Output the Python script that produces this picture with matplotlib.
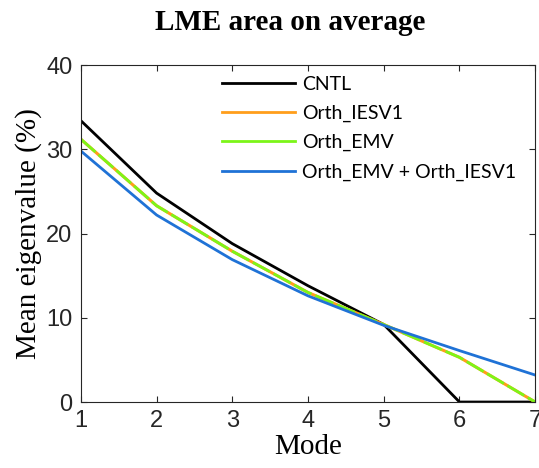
import matplotlib.pyplot as plt
from matplotlib.lines import Line2D

## Daten
mode = [1, 2, 3, 4, 5, 6, 7]
cntl = [33.4, 24.8, 18.8, 13.8, 9.2, 0.0, 0.0]
orth_iesv1 = [31.2, 23.3, 17.9, 13.0, 9.2, 5.3, 0.0]
orth_emv = [31.2, 23.3, 17.9, 13.0, 9.2, 5.3, 0.0]
orth_both = [29.8, 22.2, 16.9, 12.6, 9.1, 6.1, 3.2]
names = ['CNTL', 'Orth_IESV1', 'Orth_EMV', 'Orth_EMV + Orth_IESV1']
farben = ['black', '#ff9e1b', '#7cf518', '#1f72d6']

fig = plt.figure(figsize=(5.39, 4.68), dpi=100)
ax = fig.add_axes([0.150, 0.141, 0.843, 0.720])

ax.plot(mode, cntl, color=farben[0], lw=2)
ax.plot(mode, orth_iesv1, color=farben[1], lw=2.2)
ax.plot(mode, orth_emv, color=farben[2], lw=2, dashes=(7, 1.5))  # liegt fast auf Orth_IESV1
ax.plot(mode, orth_both, color=farben[3], lw=2)

ax.set_xlim(1, 7)
ax.set_ylim(0, 40)
ax.set_xticks(mode)
ax.set_yticks([0, 10, 20, 30, 40])
ax.tick_params(direction='in', top=True, right=True, labelsize=17,
               colors='#262626', length=4, width=0.8, pad=6)
for s in ax.spines.values():
    s.set_color('#262626')
    s.set_linewidth(0.8)
for t in ax.get_xticklabels() + ax.get_yticklabels():
    t.set_fontfamily('Liberation Sans')

ax.set_xlabel('Mode', family='Liberation Serif', fontsize=21, labelpad=1)
ax.set_ylabel('Mean eigenvalue (%)', family='Liberation Serif', fontsize=21, labelpad=3)
fig.text(290/539, 1 - 22/468, 'LME area on average', family='Liberation Serif',
         fontsize=21, fontweight='bold', ha='center', va='center')

handles = [Line2D([], [], color=c, lw=2) for c in farben]
ax.legend(handles, names, loc='upper left', bbox_to_anchor=(0.31, 0.968), frameon=False,
          borderpad=0, borderaxespad=0, handlelength=3.75, handletextpad=0.4,
          labelspacing=0.62, prop={'family': 'Lato', 'size': 14})

fig.savefig('out.png', dpi=100)
